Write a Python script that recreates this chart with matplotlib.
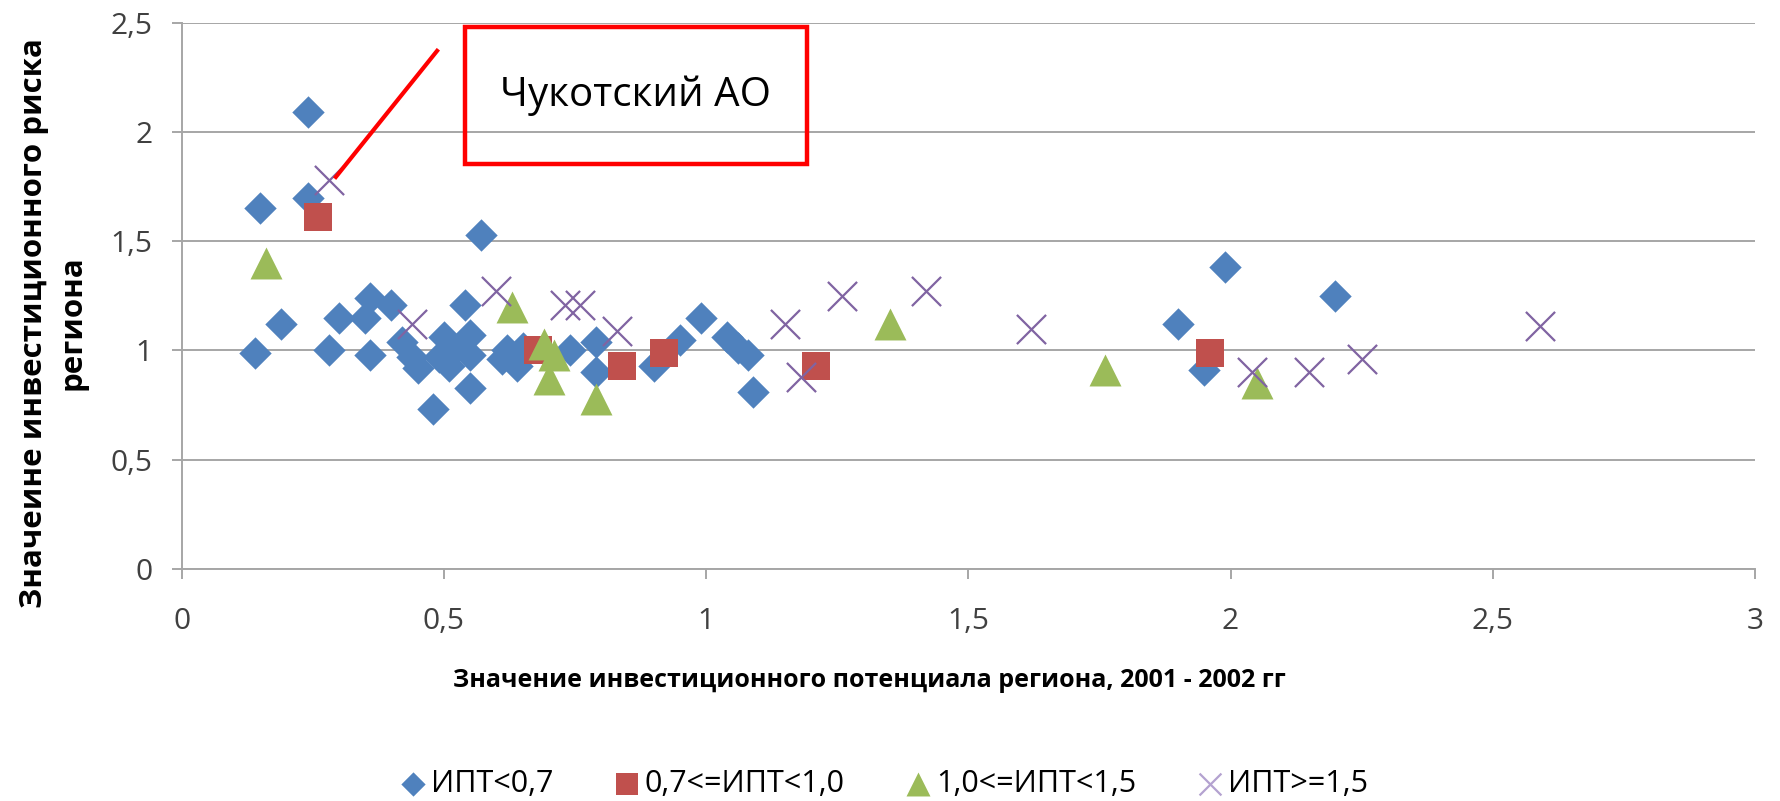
import matplotlib
matplotlib.use("Agg")
import matplotlib.pyplot as plt
from matplotlib.patches import Rectangle

plt.rcParams["font.family"] = ["Open Sans", "DejaVu Sans"]

# ИПТ<0,7
ipt_low_x = [0.14, 0.15, 0.19, 0.24, 0.24, 0.28, 0.30, 0.35, 0.36, 0.36,
             0.40, 0.42, 0.44, 0.45, 0.48, 0.49, 0.50, 0.51, 0.52, 0.54,
             0.55, 0.55, 0.55, 0.57, 0.61, 0.62, 0.64, 0.65, 0.74, 0.79,
             0.79, 0.90, 0.95, 0.99, 1.04, 1.06, 1.08, 1.09, 1.90, 1.95,
             1.99, 2.20]
ipt_low_y = [0.99, 1.65, 1.12, 2.09, 1.70, 1.00, 1.15, 1.15, 1.24, 0.98,
             1.21, 1.04, 0.97, 0.92, 0.73, 0.97, 1.06, 0.93, 1.00, 1.21,
             1.07, 0.98, 0.83, 1.53, 0.96, 1.00, 0.93, 1.01, 1.00, 1.04,
             0.90, 0.93, 1.05, 1.15, 1.06, 1.01, 0.98, 0.81, 1.12, 0.91,
             1.38, 1.25]

# 0,7<=ИПТ<1,0
ipt_mid_x = [0.26, 0.68, 0.84, 0.92, 1.21, 1.96]
ipt_mid_y = [1.61, 1.00, 0.93, 0.99, 0.93, 0.99]

# 1,0<=ИПТ<1,5
ipt_high_x = [0.16, 0.63, 0.69, 0.71, 0.70, 0.79, 1.35, 1.76, 2.05]
ipt_high_y = [1.40, 1.20, 1.03, 0.98, 0.87, 0.78, 1.12, 0.91, 0.85]

# ИПТ>=1,5
ipt_top_x = [0.28, 0.44, 0.60, 0.73, 0.76, 0.83, 1.15, 1.18, 1.26, 1.42,
             1.62, 2.04, 2.15, 2.25, 2.59]
ipt_top_y = [1.78, 1.12, 1.27, 1.21, 1.21, 1.09, 1.12, 0.88, 1.25, 1.27,
             1.10, 0.90, 0.90, 0.96, 1.11]

x_ticks = [0, 0.5, 1, 1.5, 2, 2.5, 3]
x_tick_labels = ["0", "0,5", "1", "1,5", "2", "2,5", "3"]
y_ticks = [0, 0.5, 1, 1.5, 2, 2.5]
y_tick_labels = ["0", "0,5", "1", "1,5", "2", "2,5"]

# callout for Chukotka
note_text = "Чукотский АО"
note_line_x = [0.294, 0.487]
note_line_y = [1.794, 2.371]
note_box = (0.54, 1.853, 0.652, 0.626)  # x, y, width, height in data units

fig = plt.figure(figsize=(17.81, 8.01), dpi=100)
ax = fig.add_axes([0.102, 0.2896, 0.8834, 0.6821])

grid_c = "#a6a6a6"
ax.set_xlim(0, 3)
ax.set_ylim(0, 2.5)
ax.set_yticks(y_ticks)
ax.set_yticklabels(y_tick_labels)
ax.set_xticks(x_ticks)
ax.set_xticklabels(x_tick_labels)
ax.grid(axis="y", color=grid_c, linewidth=1.4)
ax.set_axisbelow(True)
for s in ["top", "right"]:
    ax.spines[s].set_visible(False)
for s in ["left", "bottom"]:
    ax.spines[s].set_color(grid_c)
    ax.spines[s].set_linewidth(1.4)
ax.tick_params(axis="both", colors=grid_c, width=1.4, length=7,
               labelsize=21.5, labelcolor="#404040")
ax.tick_params(axis="y", pad=14)
ax.tick_params(axis="x", pad=20)

ax.scatter(ipt_low_x, ipt_low_y, marker="D", s=16.5 ** 2, color="#4f81bd",
           linewidths=0, label="ИПТ<0,7", zorder=3)
ax.scatter(ipt_mid_x, ipt_mid_y, marker="s", s=20.5 ** 2, color="#c0504d",
           linewidths=0, label="0,7<=ИПТ<1,0", zorder=3)
ax.scatter(ipt_high_x, ipt_high_y, marker="^", s=23 ** 2, color="#9bbb59",
           linewidths=0, label="1,0<=ИПТ<1,5", zorder=3)
ax.scatter(ipt_top_x, ipt_top_y, marker="x", s=21 ** 2, color="#8064a2",
           linewidths=1.6, label="ИПТ>=1,5", zorder=3)

# callout line and box
ax.plot(note_line_x, note_line_y, color="#ff0000", linewidth=3, zorder=4,
        clip_on=False)
ax.add_patch(Rectangle(note_box[:2], note_box[2], note_box[3], fill=False,
                       edgecolor="#ff0000", linewidth=3.2, zorder=4,
                       clip_on=False))
ax.text(note_box[0] + note_box[2] / 2, note_box[1] + note_box[3] / 2,
        note_text, ha="center", va="center", fontsize=29, color="black",
        zorder=5)

fig.text(0.488, 0.15, "Значение инвестиционного потенциала региона, 2001 - 2002 гг",
         ha="center", va="center", fontsize=18, fontweight="bold")
fig.text(0.0298, 0.597, "Значеине инвестиционного риска\nрегиона",
         ha="center", va="center", rotation=90, fontsize=22.5,
         fontweight="bold", multialignment="center", linespacing=1.35)

leg = fig.legend(loc="center", bbox_to_anchor=(0.4966, 0.021), ncol=4,
                 frameon=False, fontsize=22, markerscale=0.75,
                 handletextpad=0.2, columnspacing=2.0, handlelength=0.8)
leg.legend_handles[3].set_color("#b4a2d0")

fig.savefig("out.png", dpi=100)
